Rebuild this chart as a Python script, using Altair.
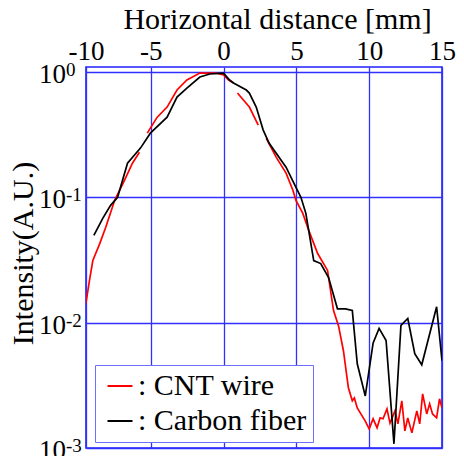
import altair as alt
import pandas as pd

# Carbon fiber (black)
black_x = [-8.91, -8.30, -7.76, -7.28, -6.60, -5.71, -5.03, -3.88, -3.20, -2.52, -1.63, -0.95, 0.0,
           0.41, 0.68, 1.56, 1.77, 2.24, 2.72, 3.13, 4.29, 4.97, 5.31, 5.65, 6.19, 6.67, 7.21, 7.82,
           8.37, 8.84, 9.18, 9.73, 10.27, 10.68, 11.16, 11.70, 12.18, 12.65, 13.13, 13.61, 14.63, 15.0]
black_y = [0.0497, 0.068, 0.0863, 0.1, 0.187, 0.247, 0.325, 0.436, 0.631, 0.745, 0.912, 0.964, 0.98,
           0.863, 0.817, 0.718, 0.679, 0.525, 0.344, 0.270, 0.174, 0.120, 0.1, 0.0745, 0.0313, 0.0296,
           0.0229, 0.0129, 0.0129, 0.0125, 0.0047, 0.0026, 0.0069, 0.0090, 0.0072, 0.00108, 0.0095,
           0.0108, 0.00565, 0.00461, 0.0134, 0.00497]

# CNT wire (red); None marks a gap in the trace
red_x = [-9.46, -9.18, -8.98, -8.50, -8.10, -7.48, -6.80, -6.26, -5.78, None,
         -5.24, -4.56, -3.88, -3.20, -2.52, -1.63, -0.48, 0.0, 0.34, 0.68, None,
         0.95, 1.77, 2.38, None,
         2.93, 3.61, 4.29, 4.76, 4.97, 5.44, 5.85, 6.46, 7.14, 7.55, 7.89, 8.23, 8.57, 8.84, 8.98,
         9.18, 9.73, 10.0, 10.27, 10.54, 10.75, 10.95, 11.22, 11.43, 11.77, 11.97, 12.24, 12.45,
         12.65, 12.93, 13.27, 13.47, 13.67, 13.95, 14.15, 14.35, 14.63, 14.83, 15.0]
red_y = [0.0142, 0.0229, 0.0313, 0.0429, 0.0575, 0.0946, 0.137, 0.187, 0.229, None,
         0.325, 0.436, 0.525, 0.718, 0.863, 0.98, 0.98, 0.946, 0.863, 0.817, None,
         0.68, 0.525, 0.377, None,
         0.296, 0.209, 0.156, 0.114, 0.0946, 0.0745, 0.0545, 0.0356, 0.0261, 0.0125, 0.00946,
         0.00597, 0.00302, 0.00238, 0.00251, 0.00209, 0.00164, 0.00142, 0.00171, 0.00145, 0.00174,
         0.00171, 0.00205, 0.00158, 0.00198, 0.00156, 0.00238, 0.00137, 0.00174, 0.00132, 0.00198,
         0.00156, 0.0027, 0.00187, 0.00225, 0.00187, 0.00174, 0.00247, 0.00209]

series_names = ["CNT wire", "Carbon fiber"]
series_colors = ["#ff0000", "#000000"]

x_ticks = [-9.45, -5, 0, 5, 10, 15]
y_ticks = [1, 0.1, 0.01, 0.001]
y_exps = ["0", "-1", "-2", "-3"]

rows = []
seg = 0
for x, y in zip(red_x, red_y):
    if x is None:
        seg += 1
        continue
    rows.append({"x": x, "y": y, "series": "CNT wire", "seg": f"r{seg}"})
for x, y in zip(black_x, black_y):
    rows.append({"x": x, "y": y, "series": "Carbon fiber", "seg": "b0"})
df = pd.DataFrame(rows)

lab_df = pd.DataFrame({"v": y_ticks, "e": y_exps})

FONT = "'Liberation Serif', 'Times New Roman', Times, 'DejaVu Serif', serif"
W, H = 356, 381
xscale = alt.Scale(domain=[-9.45, 15], nice=False, zero=False)
yscale = alt.Scale(type="log", domain=[0.001, 1.096], nice=False)

lines = alt.Chart(df).mark_line(strokeWidth=1.7, clip=True).encode(
    x=alt.X("x:Q", scale=xscale,
            axis=alt.Axis(orient="top", values=x_ticks,
                          labelExpr="datum.value < -9 ? '-10' : toString(datum.value)",
                          labelFlush=False, ticks=False, tickSize=0, domain=False,
                          labelFont=FONT, labelFontSize=27, labelColor="black", labelPadding=2,
                          grid=True, gridColor="#3030ff", gridWidth=1.3, gridOpacity=1,
                          title="Horizontal distance [mm]", titleFont=FONT, titleFontSize=30,
                          titleFontWeight="normal", titleColor="black",
                          titleX=191, titleY=-39, titleAlign="center", titleBaseline="alphabetic")),
    y=alt.Y("y:Q", scale=yscale,
            axis=alt.Axis(values=y_ticks, labels=False, ticks=False, tickSize=0, domain=False,
                          grid=True, gridColor="#3030ff", gridWidth=1.3, gridOpacity=1,
                          title="Intensity(A.U.)", titleFont=FONT, titleFontSize=30,
                          titleFontWeight="normal", titleColor="black", titleAngle=270,
                          titleX=-54, titleY=186, titleAlign="center", titleBaseline="alphabetic")),
    color=alt.Color("series:N", scale=alt.Scale(domain=series_names, range=series_colors),
                    legend=alt.Legend(title=None, orient="none", legendX=9, legendY=298,
                                      strokeColor="#6f6fff", fillColor="white", padding=6,
                                      symbolType="stroke", symbolSize=625, symbolStrokeWidth=2,
                                      symbolOffset=4,
                                      labelFont=FONT, labelFontSize=30, labelColor="black",
                                      labelOffset=3, rowPadding=5, labelLimit=400,
                                      labelExpr="': ' + datum.label")),
    detail="seg:N",
    order="x:Q",
)

base10 = alt.Chart(lab_df).mark_text(align="right", baseline="alphabetic", dy=11,
                                     font=FONT, fontSize=27, color="black").encode(
    x=alt.value(-20), y=alt.Y("v:Q", scale=yscale), text=alt.value("10"))
sup = alt.Chart(lab_df).mark_text(align="left", baseline="alphabetic", dy=4,
                                  font=FONT, fontSize=19, color="black").encode(
    x=alt.value(-20), y=alt.Y("v:Q", scale=yscale), text="e:N")

chart = alt.layer(lines, base10, sup).properties(
    width=W, height=H,
    autosize=alt.AutoSizeParams(type="none"),
    padding={"left": 78, "top": 59, "right": 14, "bottom": 8},
).configure_view(stroke="#2020ff", strokeWidth=1.6)

chart.save("out.html", embed_options={"renderer": "svg", "actions": False})
